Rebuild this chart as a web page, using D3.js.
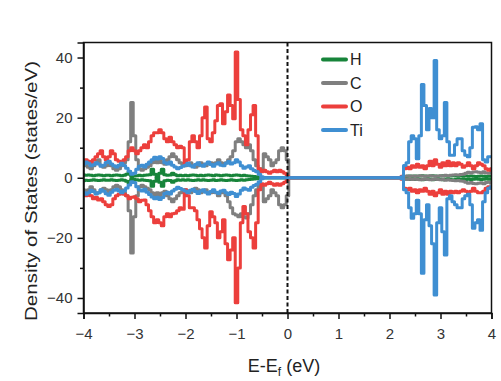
<!DOCTYPE html>
<html><head><meta charset="utf-8">
<script src="https://cdn.jsdelivr.net/npm/d3@7"></script>
<style>body{margin:0;background:#fff}svg{display:block}</style>
</head><body>
<svg id="c" width="501" height="381"></svg>
<script>
// Energy grid (eV), step 0.05 from -4 to 4
const energy = d3.range(161).map(i => +(-4 + i * 0.05).toFixed(2));
const Z10 = [0,0,0,0,0,0,0,0,0,0];

const tiUp = [4.5,5.2,4.8,4.0,4.3,5.0,4.6,3.8,4.2,5.1, 5.5,4.6,4.0,3.6,4.2,4.8,4.1,3.2,2.2,1.2,
  1.5,2.8,3.8,4.2,3.6,4.5,5.2,6.0,6.8,6.2, 7.0,6.4,5.0,4.6,5.2,4.2,3.6,3.0,3.4,3.8,
  4.2,4.8,4.0,3.6,4.4,5.0,4.2,3.8,4.6,5.2, 4.4,3.8,4.6,5.0,4.2,4.0,4.8,5.4,4.6,5.0,
  6.0,5.2,4.0,3.2,3.6,4.0,3.0,2.4,2.0,1.2, 0.3,0,0,0,0,0,0,0,0,0,
  ...Z10,...Z10,...Z10,...Z10,
  0,0,0,0,0,0.3,4.1,5.0,12,14, 13,6.3,14,31,24,16,23,20,39,16,
  13,14,25,12,7.5,7.5,11,13,13,9, 7.5,7,10,16.8,17,16,18,6,5.2,7, 7];
const tiDn = [-4.8,-5.5,-5.0,-4.2,-4.6,-5.4,-5.0,-4.0,-4.5,-5.3, -5.8,-4.8,-4.2,-3.8,-4.4,-5.0,-4.3,-3.4,-2.4,-1.3,
  -1.6,-3.0,-4.0,-4.4,-3.8,-4.8,-5.6,-6.4,-7.0,-6.5, -7.2,-6.6,-5.2,-4.8,-5.4,-4.4,-3.8,-3.2,-3.6,-4.0,
  -4.4,-5.0,-4.2,-3.8,-4.6,-5.2,-4.4,-4.0,-4.8,-5.4, -4.6,-4.0,-4.8,-5.2,-4.4,-4.2,-5.0,-5.6,-4.8,-5.2,
  -6.2,-5.4,-4.2,-3.4,-3.8,-4.2,-3.2,-2.6,-2.2,-1.3, -0.3,0,0,0,0,0,0,0,0,0,
  ...Z10,...Z10,...Z10,...Z10,
  0,0,0,0,0,-0.3,-4,-5,-10,-13.5, -12,-7.5,-12,-31.8,-14,-9,-16,-22,-39,-15,
  -10,-18,-25.7,-7,-6,-8,-9,-10,-10,-7, -6,-5.5,-9,-16.8,-15,-14,-17.5,-8,-5,-3.5, -3];

const oUp = [5,6,5.5,5,6,7,8,9,7,6, 7,9,8,6,5.5,5,6,7,9,10,
  9,8,9,10,11,10,12,14,15,15, 16,15,13,12,13.5,12,11,10,10.5,10,
  4.5,6,12,14,12,10,14,20,23.5,13, 12,15,19,24,24.6,18,22,27.5,24,19.6,
  41.8,26,16,14,11,16,21,24,14,3, 2,2.5,2,1.5,2,2.5,2,2.5,2,1.5,
  0.5,0,0,0,0,0,0,0,0,0, ...Z10,...Z10,...Z10,
  0,0,0,0,0,0.5,3,3.5,3,4, 3.5,4.5,3.5,4,3,4,5.5,4,6,4.5,
  3.5,5,4,5.5,4,5,4,5,4.5,3.5, 4,5,4,3,4,5,4.5,4,3,2.5, 3];
const oDn = [-5,-6,-5.5,-6,-7,-6.5,-7.4,-7,-8,-9, -9.6,-9,-7,-6,-5.5,-5,-5.5,-6,-7,-6.5,
  -6.3,-7,-8,-7.5,-7.4,-9,-11,-13,-15,-14, -15,-16,-13,-12,-13,-12,-11.8,-11,-10,-10.5,
  -4,-6,-10,-10,-11,-14,-17,-20,-23.4,-16, -11.3,-13,-15,-20,-18,-14,-22,-27.3,-24,-20,
  -41.6,-30,-15,-9.6,-12,-18,-20,-23.4,-15,-4, -2,-2.5,-2,-1.5,-2,-2.5,-2,-2.5,-2,-1.5,
  -0.5,0,0,0,0,0,0,0,0,0, ...Z10,...Z10,...Z10,
  0,0,0,0,0,-0.5,-3.5,-4,-3.5,-4.5, -4,-5,-4,-4.5,-3.5,-4.5,-5.5,-4.5,-6,-5,
  -4,-5.5,-4.5,-5.5,-4.5,-5,-4.5,-5,-4.5,-4, -4.5,-5,-4.5,-3.5,-4.5,-5,-5,-4.5,-3.5,-3, -3.5];

const cUp = [4,5,3.5,3,4,5,6,4,3.5,4, 5,4,3,2.5,3,4,5,6,12,25,
  14,6,3,2.5,3,3.5,4,5,6,5, 6,5,4.5,6,7,8,7,6,5,4.5,
  4,4.5,5,4,3.5,4,5,4.5,4,5, 5,4.5,5,6,5,4.5,5,6,7,9,
  12,13,12,11,10,11,9,6,4,2, 3,8,7,6,4,5,6,9,10,9,
  6,0,0,0,0,0,0,0,0,0, ...Z10,...Z10,...Z10,
  0,0,0,0,0,0.2,0.5,0.6,0.5,0.6, 0.5,0.6,0.7,0.6,0.5,0.6,0.7,0.6,0.5,0.6,
  0.7,0.6,0.8,0.7,0.8,0.9,1.0,0.9,1.1,1.2, 1.5,1.8,1.6,1.9,2.0,1.8,1.7,2.0,1.6,1.5, 1.8];
const cDn = [-4,-5,-4,-3,-4,-5,-5,-4,-3.5,-4, -5,-4,-3,-2.5,-3,-4,-5,-6,-11,-25,
  -13,-6,-3,-2.5,-3,-3.5,-4,-5,-6,-5, -6,-5,-4.5,-6,-7,-8,-7,-6,-5,-4.5,
  -4,-4.5,-5,-4,-3.5,-4,-5,-4.5,-4,-5, -5,-4.5,-5,-6,-5,-4.5,-6,-8,-10,-12,
  -12.4,-13,-12,-13,-13.4,-12,-9,-6,-4,-2, -3,-8,-7,-6,-4,-5,-6,-9,-10,-9,
  -6,0,0,0,0,0,0,0,0,0, ...Z10,...Z10,...Z10,
  0,0,0,0,0,-0.2,-0.5,-0.6,-0.5,-0.6, -0.5,-0.6,-0.7,-0.6,-0.5,-0.6,-0.7,-0.6,-0.5,-0.6,
  -0.7,-0.6,-0.8,-0.7,-0.8,-0.9,-1.0,-0.9,-1.1,-1.2, -1.5,-1.8,-1.6,-1.9,-2.0,-1.8,-1.7,-2.0,-1.6,-1.5, -1.8];

const hUp = [1,0.8,0.9,0.8,0.7,0.8,0.9,0.8,0.7,0.8, 0.8,0.7,0.8,0.9,0.8,0.7,0.8,1.2,2.0,0.4,
  0.6,0.7,0.8,0.7,0.8,0.9,1.0,2.8,1.2,0, 1.5,2.8,1.0,0.8,0.9,1.5,1.0,0.7,0.8,0.7,
  0.8,0.7,0.8,0.9,0.8,0.7,0.8,0.7,0.8,0.9, 0.8,0.7,0.9,0.8,0.7,0.8,0.9,0.8,0.7,0.8,
  0.9,0.8,0.7,0.8,0.7,0.6,0.5,0.4,0.3,0.2, 0.1,0,0,0,0,0,0,0,0,0,
  ...Z10,...Z10,...Z10,...Z10,
  0,0,0,0,0,0.1,0.4,0.5,0.6,0.5, 0.6,0.5,0.6,0.7,0.6,0.5,0.6,0.7,0.6,0.5,
  0.6,0.7,0.6,0.5,0.6,0.7,0.6,0.5,0.6,0.5, 0.6,0.5,0.6,0.5,0.4,0.5,0.6,0.5,0.4,0.5, 0.5];
const hDn = [-1,-0.8,-0.9,-0.8,-0.7,-0.8,-0.9,-0.8,-0.7,-0.8, -0.8,-0.7,-0.8,-0.9,-0.8,-0.7,-0.8,-1.2,-2.0,-0.4,
  -0.6,-0.7,-0.8,-0.7,-0.8,-0.9,-1.0,-2.8,-1.2,0, -1.5,-2.8,-1.0,-0.8,-0.9,-1.5,-1.0,-0.7,-0.8,-0.7,
  -0.8,-0.7,-0.8,-0.9,-0.8,-0.7,-0.8,-0.7,-0.8,-0.9, -0.8,-0.7,-0.9,-0.8,-0.7,-0.8,-0.9,-0.8,-0.7,-0.8,
  -0.9,-0.8,-0.7,-0.8,-0.7,-0.6,-0.5,-0.4,-0.3,-0.2, -0.1,0,0,0,0,0,0,0,0,0,
  ...Z10,...Z10,...Z10,...Z10,
  0,0,0,0,0,-0.1,-0.4,-0.5,-0.6,-0.5, -0.6,-0.5,-0.6,-0.7,-0.6,-0.5,-0.6,-0.7,-0.6,-0.5,
  -0.6,-0.7,-0.6,-0.5,-0.6,-0.7,-0.6,-0.5,-0.6,-0.5, -0.6,-0.5,-0.6,-0.5,-0.4,-0.5,-0.6,-0.5,-0.4,-0.5, -0.5];

const species = ["H", "C", "O", "Ti"];
const colors = ["#17843a", "#7f7f7f", "#ec3f3c", "#3f8fd2"];
const seriesUp = [hUp, cUp, oUp, tiUp];
const seriesDn = [hDn, cDn, oDn, tiDn];
const xTicks = [-4,-3,-2,-1,0,1,2,3,4];
const xMinor = [-3.5,-2.5,-1.5,-0.5,0.5,1.5,2.5,3.5];
const yTicks = [-40,-20,0,20,40];
const yMinor = [-30,-10,10,30];

const svg = d3.select("#c");
const L = 83.5, R = 491.5, T = 42.5, B = 313;
const x = d3.scaleLinear().domain([-4, 4]).range([L, R]);
const y = d3.scaleLinear().domain([-45, 45]).range([B, T]);

svg.append("defs").append("clipPath").attr("id","clip")
  .append("rect").attr("x", L).attr("y", T).attr("width", R - L).attr("height", B - T);

const g = svg.append("g").attr("clip-path", "url(#clip)");
const line = d3.line().curve(d3.curveStep).x((d, i) => x(energy[i])).y(d => y(d));
species.forEach((s, k) => {
  [seriesUp[k], seriesDn[k]].forEach(arr => {
    g.append("path").attr("d", line(arr)).attr("fill", "none")
      .attr("stroke", colors[k]).attr("stroke-width", 3).attr("stroke-linejoin", "round");
  });
});

// Fermi level dashed line
svg.append("line").attr("x1", x(0)).attr("x2", x(0)).attr("y1", T).attr("y2", B)
  .attr("stroke", "#111").attr("stroke-width", 2).attr("stroke-dasharray", "4,2.5");

// frame
svg.append("rect").attr("x", L).attr("y", T).attr("width", R - L).attr("height", B - T)
  .attr("fill", "none").attr("stroke", "#111").attr("stroke-width", 1.5);

const fontF = "'Liberation Sans', Arial, sans-serif";
// axes
svg.append("g").attr("transform", `translate(0,${B})`)
  .call(d3.axisBottom(x).tickValues(xTicks).tickSize(6).tickPadding(9).tickFormat(d3.format("d")));
svg.append("g").attr("transform", `translate(0,${B})`)
  .call(d3.axisBottom(x).tickValues(xMinor).tickSize(3.5).tickFormat(""))
  .call(a => a.select(".domain").remove());
svg.append("g").attr("transform", `translate(${L},0)`)
  .call(d3.axisLeft(y).tickValues(yTicks).tickSize(6).tickPadding(5).tickFormat(d3.format("d")));
svg.append("g").attr("transform", `translate(${L},0)`)
  .call(d3.axisLeft(y).tickValues(yMinor).tickSize(3.5).tickFormat(""))
  .call(a => a.select(".domain").remove());
svg.selectAll(".domain").attr("stroke", "#111").attr("stroke-width", 1.5);
svg.selectAll(".tick line").attr("stroke", "#111").attr("stroke-width", 1.5);
svg.selectAll(".tick text").attr("font-family", fontF).attr("font-size", 15).attr("fill", "#333");

// axis titles
svg.append("text").attr("transform", `translate(37,191) rotate(-90)`)
  .attr("text-anchor", "middle").attr("font-family", fontF).attr("font-size", 16).attr("fill", "#222")
  .attr("textLength", 260).attr("lengthAdjust", "spacingAndGlyphs")
  .text("Density of States (states/eV)");
const xt = svg.append("text").attr("x", 284).attr("y", 372).attr("text-anchor", "middle")
  .attr("font-family", fontF).attr("font-size", 18).attr("fill", "#222");
xt.append("tspan").text("E-E");
xt.append("tspan").attr("font-size", 12).attr("dy", 4).text("f");
xt.append("tspan").attr("dy", -4).text(" (eV)");

// legend
const lg = svg.append("g");
species.forEach((s, k) => {
  const yy = 59.5 + k * 23.5;
  lg.append("line").attr("x1", 323).attr("x2", 346).attr("y1", yy).attr("y2", yy)
    .attr("stroke", colors[k]).attr("stroke-width", 4).attr("stroke-linecap", "round");
  lg.append("text").attr("x", 350).attr("y", yy + 5.5).attr("font-family", fontF)
    .attr("font-size", 16).attr("fill", "#222").text(s);
});
</script>
</body></html>
